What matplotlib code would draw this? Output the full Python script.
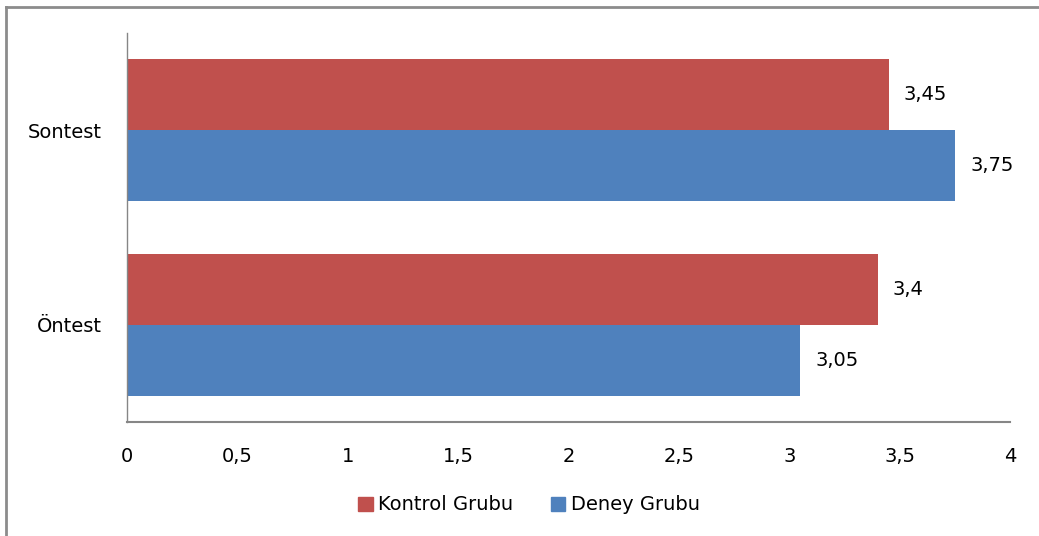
import matplotlib
matplotlib.use("Agg")
import matplotlib.pyplot as plt
from matplotlib.lines import Line2D
from matplotlib.patches import Patch
import numpy as np

categories = ["Öntest", "Sontest"]
kontrol = [3.4, 3.45]
deney = [3.05, 3.75]
series_names = ["Kontrol Grubu", "Deney Grubu"]
xticks = [0, 0.5, 1, 1.5, 2, 2.5, 3, 3.5, 4]

RED = "#C0504D"
BLUE = "#4F81BD"
AXIS_GRAY = "#868686"

plt.rcParams["font.family"] = ["DejaVu Sans"]
plt.rcParams["font.size"] = 14

W, H = 1039, 536
fig = plt.figure(figsize=(W / 100, H / 100), dpi=100)
ax = fig.add_axes([127 / W, 1 - 422 / H, (1010 - 127) / W, (422 - 33) / H])

def fmt(v):
    s = f"{v:g}"
    return s.replace(".", ",")

y = np.arange(len(categories))
h = 0.365
bars_k = ax.barh(y + h / 2, kontrol, height=h, color=RED)
bars_d = ax.barh(y - h / 2, deney, height=h, color=BLUE)

for bars, vals in ((bars_k, kontrol), (bars_d, deney)):
    ax.bar_label(bars, labels=[fmt(v) for v in vals], padding=11, fontsize=14)

ax.set_xlim(0, 4)
ax.set_ylim(-0.5, len(categories) - 0.5)
ax.set_xticks(xticks)
ax.set_xticklabels([fmt(v) for v in xticks])
ax.set_yticks(y)
ax.set_yticklabels(categories)
ax.tick_params(axis="x", length=0, pad=18, labelsize=14)
ax.tick_params(axis="y", length=0, pad=18, labelsize=14)

for side in ("top", "right"):
    ax.spines[side].set_visible(False)
ax.spines["left"].set_color(AXIS_GRAY)
ax.spines["left"].set_linewidth(1.0)
ax.spines["bottom"].set_color(AXIS_GRAY)
ax.spines["bottom"].set_linewidth(1.5)

# chart-area frame (top and left edges)
fig.add_artist(Line2D([6 / W, 1.0], [1 - 7 / H, 1 - 7 / H], color="#8C8C8C", lw=2))
fig.add_artist(Line2D([6 / W, 6 / W], [0.0, 1 - 7 / H], color="#8C8C8C", lw=2))

handles = [Patch(color=RED), Patch(color=BLUE)]
fig.legend(handles, series_names, loc="center", bbox_to_anchor=(529 / W, 1 - 505 / H),
           ncol=2, frameon=False, fontsize=14, handlelength=0.75, handleheight=0.75,
           handletextpad=0.3, columnspacing=1.9)

fig.savefig("out.png", dpi=100)
